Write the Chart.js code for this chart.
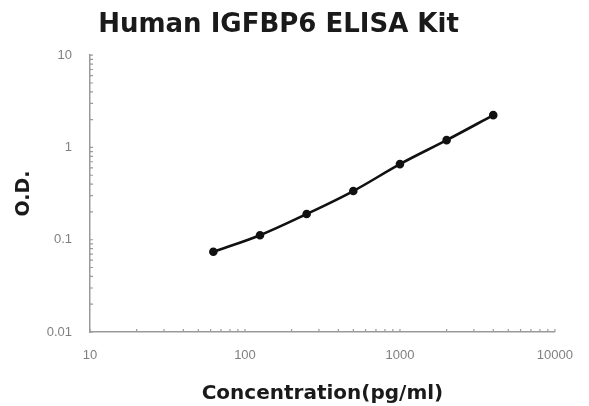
<!DOCTYPE html>
<html>
<head>
<meta charset="utf-8">
<script src="https://cdn.jsdelivr.net/npm/chart.js@4/dist/chart.umd.min.js"></script>
<style>
  html, body { margin: 0; padding: 0; background: #fff; }
  #wrap { width: 589px; height: 406px; position: relative; }
</style>
</head>
<body>
<div id="wrap"><canvas id="elisaChart"></canvas></div>
<script>
// =========================
// DATA
// =========================
const concentrations = [62.5, 125, 250, 500, 1000, 2000, 4000];
const odValues = [0.074, 0.112, 0.19, 0.337, 0.66, 1.2, 2.24];
const xTickLabels = [10, 100, 1000, 10000];
const yTickLabels = [0.01, 0.1, 1, 10];

const AXIS_COLOR = "#9a9a9a";
const TICK_TEXT = "#808080";
const BOLD_FONT = "'DejaVu Sans', Verdana, sans-serif";

// =========================
// MINOR TICKS (inward)
// =========================
const minorTicks = {
    id: "minorTicks",
    afterDraw(chart) {
        const ctx = chart.ctx;
        const { x, y } = chart.scales;
        ctx.save();
        ctx.strokeStyle = AXIS_COLOR;
        ctx.lineWidth = 1.2;
        ctx.beginPath();
        for (let e = 1; e < 4; e++) {
            for (let k = 1; k <= 10; k++) {
                const px = x.getPixelForValue(k * Math.pow(10, e));
                ctx.moveTo(px, y.bottom);
                ctx.lineTo(px, y.bottom - 3);
            }
        }
        for (let e = -2; e < 1; e++) {
            for (let k = 1; k <= 10; k++) {
                const py = y.getPixelForValue(k * Math.pow(10, e));
                ctx.moveTo(x.left, py);
                ctx.lineTo(x.left + 3, py);
            }
        }
        ctx.stroke();
        ctx.restore();
    }
};

// =========================
// CHART
// =========================
new Chart(document.getElementById("elisaChart"), {
    type: "line",
    data: {
        datasets: [{
            data: concentrations.map((c, i) => ({ x: c, y: odValues[i] })),
            borderColor: "#111",
            backgroundColor: "#111",
            borderWidth: 2.6,
            pointRadius: 3,
            pointHoverRadius: 3,
            tension: 0.35,
            fill: false
        }]
    },
    options: {
        responsive: true,
        maintainAspectRatio: false,
        animation: false,
        layout: { padding: { left: 0, right: 32, top: 0, bottom: 0 } },
        plugins: {
            legend: { display: false },
            tooltip: { enabled: false },
            title: {
                display: true,
                text: "Human IGFBP6 ELISA Kit",
                color: "#1a1a1a",
                font: { family: BOLD_FONT, size: 26, weight: "bold" },
                padding: { top: 10, bottom: 14 }
            }
        },
        scales: {
            x: {
                type: "logarithmic",
                min: 10,
                max: 10000,
                afterFit(s) { s.height = 74; },
                afterBuildTicks(s) { s.ticks = xTickLabels.map(v => ({ value: v })); },
                grid: { drawOnChartArea: false, drawTicks: false },
                border: { display: true, color: AXIS_COLOR, width: 1.5 },
                ticks: {
                    color: TICK_TEXT,
                    padding: 16,
                    maxRotation: 0,
                    autoSkip: false,
                    font: { family: "'Liberation Sans', Arial", size: 13 },
                    callback: v => String(v)
                },
                title: {
                    display: true,
                    text: "Concentration(pg/ml)",
                    color: "#1a1a1a",
                    font: { family: BOLD_FONT, size: 20, weight: "bold" },
                    padding: { top: 0, bottom: 0 }
                }
            },
            y: {
                type: "logarithmic",
                min: 0.01,
                max: 10,
                afterFit(s) { s.width = 90; },
                afterBuildTicks(s) { s.ticks = yTickLabels.map(v => ({ value: v })); },
                grid: { drawOnChartArea: false, drawTicks: false },
                border: { display: true, color: AXIS_COLOR, width: 1.5 },
                ticks: {
                    color: TICK_TEXT,
                    padding: 18,
                    autoSkip: false,
                    font: { family: "'Liberation Sans', Arial", size: 13 },
                    callback: v => String(v)
                },
                title: {
                    display: true,
                    text: "O.D.",
                    color: "#1a1a1a",
                    font: { family: BOLD_FONT, size: 19, weight: "bold" },
                    padding: { top: 13, bottom: 0 }
                }
            }
        }
    },
    plugins: [minorTicks]
});
</script>
</body>
</html>
